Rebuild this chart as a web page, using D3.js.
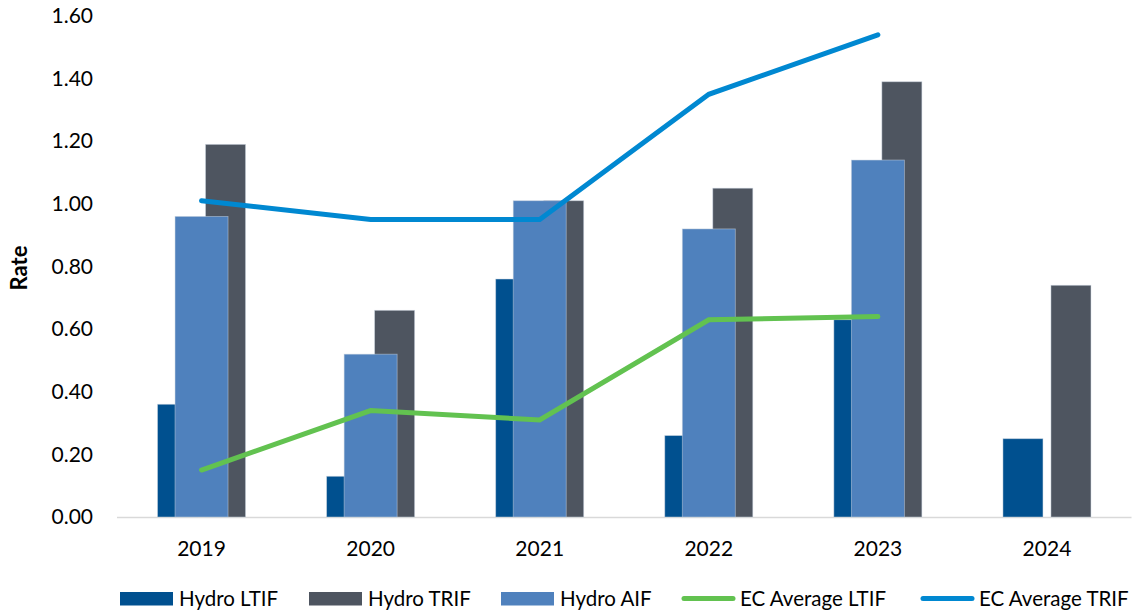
<!DOCTYPE html>
<html>
<head>
<meta charset="utf-8">
<script src="https://cdn.jsdelivr.net/npm/d3@7"></script>
<style>
  html, body { margin: 0; padding: 0; background: #fff; }
  svg { display: block; }
  text { font-family: Lato, "Open Sans", sans-serif; fill: #000; }
</style>
</head>
<body>
<svg id="chart" width="1136" height="613"></svg>
<script>
// Safety rates by year
const years = ["2019", "2020", "2021", "2022", "2023", "2024"];
const hydroLTIF = [0.36, 0.13, 0.76, 0.26, 0.63, 0.25];
const hydroTRIF = [1.19, 0.66, 1.01, 1.05, 1.39, 0.74];
const hydroAIF  = [0.96, 0.52, 1.01, 0.92, 1.14, null];
const ecAvgLTIF = [0.15, 0.34, 0.31, 0.63, 0.64];
const ecAvgTRIF = [1.01, 0.95, 0.95, 1.35, 1.54];
const yTicks = [0, 0.2, 0.4, 0.6, 0.8, 1.0, 1.2, 1.4, 1.6];

const colors = {
  ltif: "#00508f",
  trif: "#4e5560",
  aif: "#4f81bd",
  ecLtif: "#62c250",
  ecTrif: "#0088d1"
};

const svg = d3.select("#chart");
const plotLeft = 117, plotRight = 1131.5, plotTop = 16, plotBottom = 517;
const fontFamily = "Lato, 'Open Sans', sans-serif";

const x = d3.scaleBand().domain(years).range([plotLeft, plotRight]).paddingInner(0).paddingOuter(0);
const y = d3.scaleLinear().domain([0, 1.6]).range([plotBottom, plotTop]);
const cx = yr => x(yr) + x.bandwidth() / 2;

// clustered pair (LTIF, TRIF) inside each year
const pair = d3.scaleBand().domain(["ltif", "trif"]).range([-44, 44]).paddingInner(1 / 6).paddingOuter(0);
const aifWidth = 53;

// y axis labels
const yAxis = d3.axisLeft(y).tickValues(yTicks).tickFormat(d3.format(".2f")).tickSize(0).tickPadding(0);
const gy = svg.append("g").attr("transform", "translate(93,0)").call(yAxis);
gy.select(".domain").remove();
gy.selectAll("text").style("font-size", "21px").style("font-family", fontFamily).attr("fill", "#000");

// axis title
svg.append("text")
  .attr("transform", "translate(27,268) rotate(-90)")
  .attr("text-anchor", "middle")
  .style("font-size", "22px")
  .style("font-weight", "bold")
  .text("Rate");

// baseline
svg.append("line")
  .attr("x1", plotLeft).attr("x2", plotRight)
  .attr("y1", plotBottom + 0.5).attr("y2", plotBottom + 0.5)
  .attr("stroke", "#d9d9d9").attr("stroke-width", 1.5);

// x axis labels
const xAxis = d3.axisBottom(x).tickSize(0).tickPadding(0);
const gx = svg.append("g").attr("transform", `translate(0,${plotBottom + 24})`).call(xAxis);
gx.select(".domain").remove();
gx.selectAll("text").style("font-size", "21px").style("font-family", fontFamily).attr("fill", "#000");

const bars = svg.append("g");

function drawBars(values, color, xOf, width) {
  bars.selectAll(null)
    .data(years.map((yr, i) => ({ yr, v: values[i] })).filter(d => d.v != null))
    .join("rect")
    .attr("x", d => xOf(d.yr))
    .attr("width", width)
    .attr("y", d => y(d.v))
    .attr("height", d => y(0) - y(d.v))
    .attr("fill", color)
    .attr("stroke", "#c9d3e0")
    .attr("stroke-opacity", 0.6)
    .attr("stroke-width", 0.8);
}

drawBars(hydroLTIF, colors.ltif, yr => cx(yr) + pair("ltif"), pair.bandwidth());
drawBars(hydroTRIF, colors.trif, yr => cx(yr) + pair("trif"), pair.bandwidth());
drawBars(hydroAIF, colors.aif, yr => cx(yr) - aifWidth / 2, aifWidth);

// average lines
const line = d3.line().x(d => cx(d.yr)).y(d => y(d.v));
function drawLine(values, color) {
  svg.append("path")
    .datum(values.map((v, i) => ({ yr: years[i], v })))
    .attr("d", line)
    .attr("fill", "none")
    .attr("stroke", color)
    .attr("stroke-width", 5)
    .attr("stroke-linecap", "round")
    .attr("stroke-linejoin", "miter");
}
drawLine(ecAvgLTIF, colors.ecLtif);
drawLine(ecAvgTRIF, colors.ecTrif);

// legend
const legendItems = [
  { label: "Hydro LTIF", color: colors.ltif, type: "rect", x: 120 },
  { label: "Hydro TRIF", color: colors.trif, type: "rect", x: 309 },
  { label: "Hydro AIF", color: colors.aif, type: "rect", x: 501 },
  { label: "EC Average LTIF", color: colors.ecLtif, type: "line", x: 681 },
  { label: "EC Average TRIF", color: colors.ecTrif, type: "line", x: 920 }
];
const lg = svg.append("g");
legendItems.forEach(it => {
  if (it.type === "rect") {
    lg.append("rect").attr("x", it.x).attr("y", 592).attr("width", 53).attr("height", 13.5).attr("fill", it.color);
  } else {
    lg.append("line").attr("x1", it.x + 3).attr("x2", it.x + 52).attr("y1", 598.5).attr("y2", 598.5)
      .attr("stroke", it.color).attr("stroke-width", 5).attr("stroke-linecap", "round");
  }
  lg.append("text").attr("x", it.x + 59).attr("y", 605.5).style("font-size", "20.5px").text(it.label);
});
</script>
</body>
</html>
